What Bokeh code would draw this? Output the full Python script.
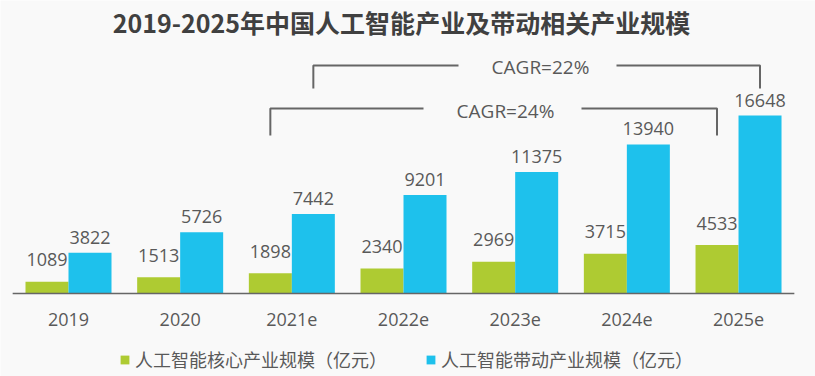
from bokeh.plotting import figure
from bokeh.models import Range1d, Label, Legend, LegendItem
from bokeh.embed import file_html
from bokeh.resources import INLINE
from bokeh.core.properties import value

# ---------------- data ----------------
years = ["2019", "2020", "2021e", "2022e", "2023e", "2024e", "2025e"]
core = [1089, 1513, 1898, 2340, 2969, 3715, 4533]
driven = [3822, 5726, 7442, 9201, 11375, 13940, 16648]
series_names = ["人工智能核心产业规模（亿元）", "人工智能带动产业规模（亿元）"]
cagr_labels = ["CAGR=24%", "CAGR=22%"]
title_text = "2019-2025年中国人工智能产业及带动相关产业规模"

# ---------------- layout constants ----------------
W, H = 815, 376
BASE_PX = 293            # baseline position (px from top)
SCALE = 178 / 16648      # px per unit
X0_PX = 68               # centre of first category (px)
STEP = 111.67            # category width (px)

GREEN = "#AECB32"
CYAN = "#1EC1EC"
TXT = "#595959"
LINE = "#666666"
BG = "#F9F9F9"


def ydata(px):
    return (BASE_PX - px) / SCALE


def xdata(px):
    return (px - X0_PX) / STEP


p = figure(width=W, height=H,
           x_range=Range1d(xdata(0), xdata(W)),
           y_range=Range1d(ydata(H), ydata(0)),
           output_backend="svg", toolbar_location=None,
           min_border=0, x_axis_type=None, y_axis_type=None)
p.outline_line_color = None
p.background_fill_color = BG
p.border_fill_color = BG

idx = list(range(len(years)))
BW = 43 / STEP
xc = [i - BW / 2 for i in idx]
xd = [i + BW / 2 for i in idx]

r1 = p.vbar(x=xc, top=core, width=BW, fill_color=GREEN, line_color=None)
r2 = p.vbar(x=xd, top=driven, width=BW, fill_color=CYAN, line_color=None)

num_font = value("Open Sans")
p.text(x=xc, y=core, text=[str(v) for v in core], text_align="center",
       text_baseline="middle", y_offset=-22, text_font=num_font,
       text_font_size="18px", text_color=TXT)
p.text(x=xd, y=driven, text=[str(v) for v in driven], text_align="center",
       text_baseline="middle", y_offset=-15.5, text_font=num_font,
       text_font_size="18px", text_color=TXT)

# category labels and baseline
p.text(x=idx, y=[0] * len(idx), text=years, text_align="center",
       text_baseline="middle", y_offset=26, text_font=num_font,
       text_font_size="18px", text_color=TXT)
p.segment(x0=[-0.5], y0=[0], x1=[len(years) - 0.5], y1=[0],
          line_color=LINE, line_width=1.5)

# CAGR brackets
# lower: core series, 2021e -> 2025e
lx0, lx1 = 2 - BW / 2, 6 - BW / 2
l_top, l_bot = ydata(108), ydata(135)
l_tc = xdata(505)
# upper: driven series, 2021e -> 2025e
ux0, ux1 = 2 + BW / 2, 6 + BW / 2
u_top, u_bot = ydata(65), ydata(88)
u_tc = xdata(540)
gap_l, gap_r = 82 / STEP, 76 / STEP

p.multi_line(
    xs=[[lx0, lx0, l_tc - gap_l], [l_tc + gap_r, lx1, lx1],
        [ux0, ux0, u_tc - gap_l], [u_tc + gap_r, ux1, ux1]],
    ys=[[l_bot, l_top, l_top], [l_top, l_top, l_bot],
        [u_bot, u_top, u_top], [u_top, u_top, u_bot]],
    line_color=LINE, line_width=2)

p.text(x=[l_tc, u_tc], y=[ydata(110), ydata(66)], text=cagr_labels,
       text_align="center", text_baseline="middle", text_font=num_font,
       text_font_size="19px", text_color=TXT)

# title
p.add_layout(Label(x=401, y=H - 21, x_units="screen", y_units="screen",
                   text=title_text, text_align="center",
                   text_baseline="middle", text_font="Noto Sans CJK SC",
                   text_font_style="bold", text_font_size="25px",
                   text_color="#404040"))

# legend
legend = Legend(items=[LegendItem(label=series_names[0], renderers=[r1]),
                       LegendItem(label=series_names[1], renderers=[r2])],
                orientation="horizontal", location=(119, 4),
                glyph_width=11, glyph_height=11, label_standoff=5,
                spacing=38, padding=0, margin=0, border_line_color=None,
                background_fill_alpha=0, label_text_font="Noto Sans CJK SC",
                label_text_font_size="18px", label_text_color=TXT,
                label_height=20)
p.add_layout(legend)

open("out.html", "w").write(file_html(p, INLINE))
